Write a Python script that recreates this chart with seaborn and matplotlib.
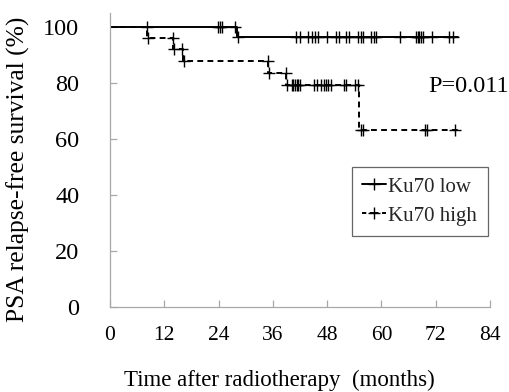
import numpy as np
import pandas as pd
import matplotlib
matplotlib.use("Agg")
import matplotlib.pyplot as plt
from matplotlib.lines import Line2D
import seaborn as sns

# ---- data ----
low_times = [0, 28.0, 77.0]
low_surv = [100, 96.4, 96.4]
low_censor = [8.1, 23.9, 24.3, 24.7, 27.7, 28.3, 41.1, 42.0, 43.8, 44.6, 45.3, 46.0,
              48.0, 50.0, 50.7, 52.2, 52.9, 54.9, 55.4, 56.0, 57.6, 58.4, 58.9,
              64.0, 67.6, 68.0, 68.4, 68.7, 69.1, 71.1, 75.0, 75.9]

high_times = [0, 8.1, 14.0, 16.1, 35.0, 39.0, 55.0, 77.0]
high_surv = [100, 96, 92, 88, 83.4, 79.2, 63.3, 63.3]
high_censor = [8.3, 13.9, 14.1, 15.9, 16.3, 34.9, 35.1, 38.9, 39.1, 40.2, 40.5, 40.9,
               41.3, 41.6, 42.0, 45.1, 45.8, 46.6, 47.2, 47.7, 48.3, 48.8, 51.7,
               52.2, 54.2, 54.9, 55.5, 56.0, 69.6, 70.0, 76.3]

x_ticks = [0, 12, 24, 36, 48, 60, 72, 84]
y_ticks = [0, 20, 40, 60, 80, 100]
labels = ["Ku70 low", "Ku70 high"]
p_text = "P=0.011"


def step_at(times, surv, t):
    idx = np.searchsorted(times, t, side="right") - 1
    return np.asarray(surv)[idx]


sns.set_theme(style="white")
plt.rcParams["font.family"] = ["Liberation Serif", "DejaVu Serif"]

fig = plt.figure(figsize=(5.10, 3.92), dpi=100)
ax = fig.add_axes([110 / 510, 1 - 307 / 392, 380 / 510, 294 / 392])

low_df = pd.DataFrame({"t": low_times, "s": low_surv})
high_df = pd.DataFrame({"t": high_times, "s": high_surv})

lw = 1.4
dash = (3, 2.2)
sns.lineplot(data=low_df, x="t", y="s", ax=ax, drawstyle="steps-post",
             estimator=None, color="black", lw=lw)
sns.lineplot(data=high_df, x="t", y="s", ax=ax, drawstyle="steps-post",
             estimator=None, color="black", lw=lw)
ax.lines[-1].set_dashes(dash)

ax.plot(low_censor, step_at(low_times, low_surv, low_censor), ls="none",
        marker="+", ms=9, mew=1.0, color="black")
ax.plot(high_censor, step_at(high_times, high_surv, high_censor), ls="none",
        marker="+", ms=9, mew=1.0, color="black")

ax.set_xlim(0, 84)
ax.set_ylim(0, 105)
ax.set_xticks(x_ticks)
ax.set_yticks(y_ticks)

for s in ["top", "right"]:
    ax.spines[s].set_visible(False)
for s in ["left", "bottom"]:
    ax.spines[s].set_color("#a8a8a8")
    ax.spines[s].set_linewidth(0.9)

ax.tick_params(axis="x", direction="in", length=5, width=0.9, color="#a8a8a8",
               labelsize=15.5, pad=14, labelcolor="black")
ax.tick_params(axis="y", direction="in", length=5, width=0.9, color="#a8a8a8",
               labelsize=17.5, pad=22, labelcolor="black")
ax.tick_params(bottom=True, left=True)

ax.set_xlabel("Time after radiotherapy  (months)", fontsize=16.5, color="black")
ax.set_ylabel("PSA relapse-free survival (%)", fontsize=18.4, color="black")
ax.xaxis.set_label_coords(0.447, -0.215)
ax.yaxis.set_label_coords(-0.21, 0.47)

ax.text(70.3, 76.9, p_text, fontsize=17.5, va="baseline", ha="left", color="black")

handles = [
    Line2D([], [], color="black", lw=lw, marker="+", ms=9, mew=1.0),
    Line2D([], [], color="black", lw=lw, ls=(0, (2.2, 1.8, 4.5, 1.8)), marker="+", ms=9, mew=1.0),
]
leg = ax.legend(handles, labels, loc="upper right", bbox_to_anchor=(0.994, 0.477),
                fontsize=15, frameon=True, fancybox=False, handlelength=1.15,
                handletextpad=0.1, borderpad=0.5, labelspacing=0.45,
                borderaxespad=0, numpoints=1)
leg.get_frame().set_edgecolor("#404040")
leg.get_frame().set_linewidth(0.9)

fig.savefig("out.png", dpi=100)
